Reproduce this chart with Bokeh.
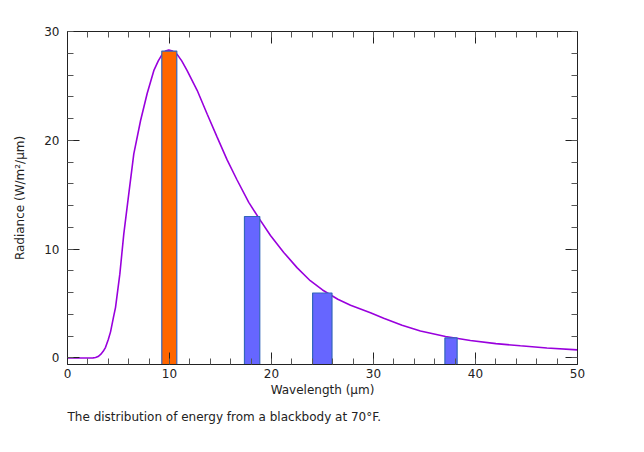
from bokeh.plotting import figure
from bokeh.models import LinearAxis, Range1d, FixedTicker, Title
from bokeh.embed import file_html
from bokeh.resources import INLINE

# curve
wavelength = [0, 1, 2, 2.5, 2.75, 3.0, 3.25, 3.5, 3.73, 4.0, 4.22, 4.5, 4.71, 5.13, 5.52,
              6.01, 6.5, 7.16, 7.81, 8.46, 8.9, 9.28, 9.6, 9.93, 10.3, 10.75, 11.2,
              11.73, 12.71, 13.7, 14.67, 15.65, 16.6, 17.77, 18.76, 19.9, 21.2, 22.5,
              23.8, 25.0, 26.5, 27.75, 29.7, 31.0, 32.8, 34.6, 37.06, 39.5, 42.0, 44.4,
              47.0, 50]
radiance = [0, 0, 0, 0.01, 0.04, 0.13, 0.32, 0.61, 0.98, 1.7, 2.4, 3.7, 4.65, 7.7, 11.4,
            15.1, 18.75, 21.8, 24.3, 26.4, 27.3, 27.9, 28.2, 28.3, 28.2, 27.9, 27.3,
            26.4, 24.6, 22.4, 20.3, 18.2, 16.4, 14.3, 12.85, 11.25, 9.7, 8.3,
            7.1, 6.25, 5.4, 4.85, 4.15, 3.65, 3.0, 2.48, 1.97, 1.6, 1.32, 1.12,
            0.92, 0.74]

# bars
bar_x = [9.98, 18.1, 24.98, 37.6]
bar_w = [1.47, 1.5, 1.9, 1.2]
bar_top = [28.2, 13.0, 5.97, 1.84]
bar_colors = ["#FF6600", "#6666FF", "#6666FF", "#6666FF"]

x_ticks = [0, 10, 20, 30, 40, 50]
y_ticks = [0, 10, 20, 30]
x_start, x_end = 0, 50
y_start, y_end = -0.6, 30

FONT = "DejaVu Sans"

p = figure(width=628, height=444, output_backend="svg", toolbar_location=None,
           x_range=Range1d(x_start, x_end), y_range=Range1d(y_start, y_end),
           x_axis_location=None, y_axis_location=None,
           min_border_left=67, min_border_top=31, min_border_right=51, min_border_bottom=80)
p.grid.visible = False
p.outline_line_color = "#222222"
p.background_fill_color = "white"
p.border_fill_color = "white"

p.line(wavelength, radiance, line_color="#9900DD", line_width=1.6)
p.vbar(x=bar_x, width=bar_w, top=bar_top, bottom=y_start, fill_color=bar_colors,
       line_color="#3366BB", line_width=1.2)

def style(ax, labels=True):
    ax.major_tick_in = 12
    ax.major_tick_out = 0
    ax.minor_tick_in = 6
    ax.minor_tick_out = 0
    ax.axis_line_color = "#222222"
    ax.major_tick_line_color = "#222222"
    ax.minor_tick_line_color = "#555555"
    ax.major_label_text_font = FONT
    ax.major_label_text_font_size = "12px"
    ax.major_label_text_color = "#222222"
    ax.axis_label_text_font = FONT
    ax.axis_label_text_font_size = "12px"
    ax.axis_label_text_font_style = "normal"
    ax.axis_label_text_color = "#222222"
    if not labels:
        ax.major_label_text_font_size = "0px"
        ax.major_label_text_alpha = 0

xt = FixedTicker(ticks=x_ticks, minor_ticks=list(range(0, 51, 2)))
yt = FixedTicker(ticks=y_ticks, minor_ticks=list(range(0, 31, 2)))

bx = LinearAxis(ticker=xt, axis_label="Wavelength (\u03bcm)")
style(bx)
bx.major_label_standoff = 4
bx.axis_label_standoff = 2
p.add_layout(bx, "below")

tx = LinearAxis(ticker=xt)
style(tx, labels=False)
p.add_layout(tx, "above")

ly = LinearAxis(ticker=yt, axis_label="Radiance (W/m\u00b2/\u03bcm)")
style(ly)
ly.major_label_standoff = 8
ly.axis_label_standoff = 14
p.add_layout(ly, "left")

ry = LinearAxis(ticker=yt)
style(ry, labels=False)
p.add_layout(ry, "right")

cap = Title(text="The distribution of energy from a blackbody at 70\u00b0F.", align="left",
            text_font=FONT, text_font_size="12px", text_font_style="normal",
            text_color="#222222", offset=0, standoff=16)
p.add_layout(cap, "below")

open("out.html", "w").write(file_html(p, INLINE))
